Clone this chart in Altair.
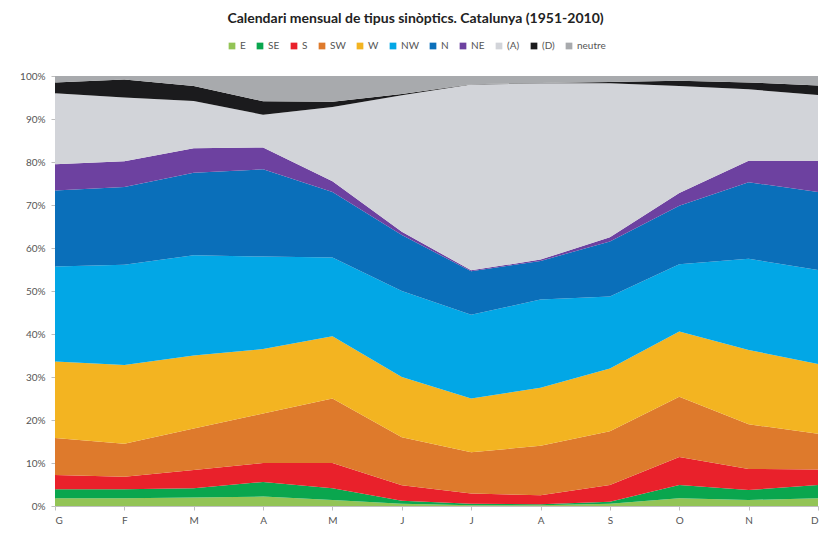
import altair as alt
import pandas as pd

months = ["G", "F", "M", "A", "M", "J", "J", "A", "S", "O", "N", "D"]
categories = ["E", "SE", "S", "SW", "W", "NW", "N", "NE", "(A)", "(D)", "neutre"]

# monthly share (%) of each synoptic type
E_vals = [1.8, 1.8, 2.0, 2.2, 1.4, 0.5, 0.2, 0.2, 0.5, 1.8, 1.4, 1.8]
SE_vals = [2.1, 2.1, 2.1, 3.4, 2.7, 0.7, 0.3, 0.2, 0.5, 3.1, 2.3, 3.1]
S_vals = [3.3, 2.9, 4.3, 4.4, 5.9, 3.6, 2.4, 2.1, 3.9, 6.5, 4.9, 3.6]
SW_vals = [8.6, 7.7, 9.6, 11.5, 15.0, 11.2, 9.6, 11.5, 12.5, 14.0, 10.4, 8.3]
W_vals = [17.8, 18.3, 17.0, 15.0, 14.5, 14.0, 12.5, 13.5, 14.6, 15.2, 17.3, 16.2]
NW_vals = [22.1, 23.3, 23.3, 21.5, 18.3, 20.0, 19.5, 20.5, 16.7, 15.6, 21.2, 21.9]
N_vals = [17.7, 18.1, 19.2, 20.3, 15.2, 13.0, 10.1, 9.0, 12.8, 13.6, 17.8, 18.1]
NE_vals = [6.1, 6.0, 5.7, 5.1, 2.5, 0.8, 0.2, 0.3, 1.0, 3.0, 5.0, 7.3]
A_vals = [16.5, 14.8, 11.0, 7.6, 17.3, 31.7, 43.2, 41.0, 35.8, 24.9, 16.6, 15.3]
D_vals = [2.5, 4.2, 3.5, 3.1, 1.2, 0.3, 0.1, 0.1, 0.3, 1.2, 1.6, 2.2]
neutre_vals = [1.5, 0.8, 2.3, 5.9, 6.0, 4.2, 1.9, 1.6, 1.4, 1.1, 1.5, 2.2]

series = [E_vals, SE_vals, S_vals, SW_vals, W_vals, NW_vals, N_vals, NE_vals,
          A_vals, D_vals, neutre_vals]
colors = ["#93c456", "#0aa64e", "#e9212b", "#de7a2c", "#f3b421", "#02a7e6",
          "#0a6fba", "#6d41a0", "#d2d4d9", "#1b1b1d", "#a8aaad"]

rows = []
for k, (cat, vals) in enumerate(zip(categories, series)):
    for i, v in enumerate(vals):
        rows.append({"mi": i, "cat": cat, "k": k, "value": v})
df = pd.DataFrame(rows)

label_expr = "[" + ",".join(f"'{m}'" for m in months) + "][datum.value]"
FONT = "Lato"

chart = alt.Chart(df).mark_area(interpolate="linear").encode(
    x=alt.X("mi:Q",
            scale=alt.Scale(domain=[0, 11], nice=False, zero=False),
            axis=alt.Axis(values=list(range(12)), labelExpr=label_expr, title=None,
                          grid=False, domainColor="#bfbfbf", tickColor="#bfbfbf",
                          tickSize=4, labelFontSize=10, labelColor="#555555",
                          labelFont=FONT, labelPadding=5)),
    y=alt.Y("value:Q", stack="normalize",
            scale=alt.Scale(domain=[0, 1], nice=False),
            axis=alt.Axis(format=".0%", values=[i / 10 for i in range(11)], title=None,
                          grid=False, domainColor="#bfbfbf", tickColor="#bfbfbf",
                          tickSize=4, labelFontSize=10, labelColor="#555555",
                          labelFont=FONT, labelPadding=6)),
    color=alt.Color("cat:N",
                    scale=alt.Scale(domain=categories, range=colors),
                    legend=alt.Legend(orient="none", legendX=172, legendY=-35,
                                      direction="horizontal", columns=11, title=None,
                                      symbolType="square", symbolSize=45,
                                      symbolStrokeWidth=0,
                                      labelFontSize=10, labelColor="#555555",
                                      labelFont=FONT, columnPadding=9,
                                      labelOffset=3)),
    order=alt.Order("k:Q", sort="ascending"),
).properties(
    width=763,
    height=430,
    autosize="none",
    padding={"left": 47, "top": 68, "right": 5, "bottom": 27},
    title=alt.TitleParams("Calendari mensual de tipus sinòptics. Catalunya (1951-2010)",
                          anchor="middle", fontSize=14, font=FONT, fontWeight="bold",
                          color="#222222", offset=15, dx=-21),
).configure_view(stroke=None)

chart.save("out.html", embed_options={"renderer": "svg", "actions": False})
